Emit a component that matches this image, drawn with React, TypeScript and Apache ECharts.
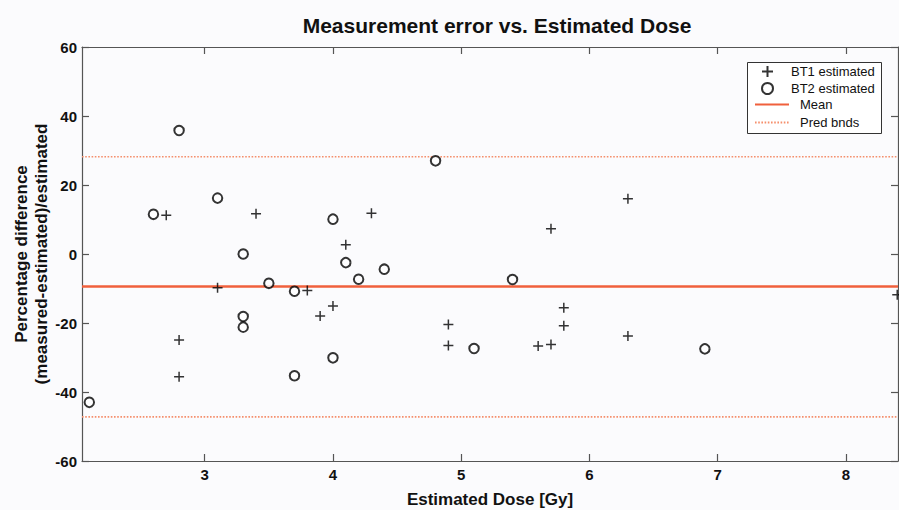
import React, { useEffect, useRef } from "react";
import * as echarts from "echarts";

const bt1X = [2.7, 2.8, 2.8, 3.1, 3.4, 3.8, 3.9, 4.0, 4.1, 4.3, 4.9, 4.9, 5.6, 5.7, 5.7, 5.8, 5.8, 6.3, 6.3, 8.4];
const bt1Y = [11.2, -24.9, -35.6, -9.8, 11.7, -10.6, -18.0, -15.1, 2.7, 11.8, -20.4, -26.5, -26.7, 7.3, -26.2, -15.6, -20.8, 16.0, -23.8, -11.8];

const bt2X = [2.1, 2.6, 2.8, 3.1, 3.3, 3.3, 3.3, 3.5, 3.7, 3.7, 4.0, 4.0, 4.1, 4.2, 4.4, 4.8, 5.1, 5.4, 6.9];
const bt2Y = [-43.0, 11.5, 35.8, 16.2, 0.0, -18.1, -21.2, -8.5, -10.8, -35.3, 10.1, -30.1, -2.5, -7.3, -4.4, 27.0, -27.4, -7.4, -27.5];

const meanValue = -9.4;
const predBounds = [28.2, -47.2];

const xRange = [2.043, 8.406];
const yRange = [-60, 60];
const xTicks = [3, 4, 5, 6, 7, 8];

const FONT = "'Liberation Sans', Arial, sans-serif";
const PLUS = "path://M0,5L10,5M5,0L5,10";

export default function App() {
  const ref = useRef<HTMLDivElement>(null);
  useEffect(() => {
    const chart = echarts.init(ref.current!, null, { renderer: "svg" });
    const axisLineStyle = { color: "#555", width: 1.2 };
    chart.setOption({
      animation: false,
      backgroundColor: "#fbfbfd",
      title: {
        text: "Measurement error vs. Estimated Dose",
        left: 492,
        top: 10,
        textAlign: "center",
        textStyle: { fontFamily: FONT, fontSize: 21, fontWeight: "bold", color: "#111" },
      },
      grid: { left: 82, right: 1, top: 47, bottom: 49, containLabel: false, outerBoundsMode: "none" },
      xAxis: [
        {
          type: "value",
          min: xRange[0],
          max: xRange[1],
          name: "Estimated Dose [Gy]",
          nameLocation: "middle",
          nameGap: 30,
          nameMoveOverlap: false,
          nameTextStyle: { fontFamily: FONT, fontSize: 17, fontWeight: "bold", color: "#111" },
          axisLine: { show: true, onZero: false, lineStyle: axisLineStyle },
          axisTick: { show: true, inside: true, length: 7, customValues: xTicks, lineStyle: axisLineStyle },
          axisLabel: { customValues: xTicks, fontFamily: FONT, fontSize: 15, fontWeight: "bold", color: "#111", margin: 6 },
          splitLine: { show: false },
        },
        {
          type: "value",
          position: "top",
          min: xRange[0],
          max: xRange[1],
          axisLine: { show: true, onZero: false, lineStyle: axisLineStyle },
          axisTick: { show: true, inside: true, length: 7, customValues: xTicks, lineStyle: axisLineStyle },
          axisLabel: { show: false },
          splitLine: { show: false },
        },
      ],
      yAxis: [
        {
          type: "value",
          min: yRange[0],
          max: yRange[1],
          interval: 20,
          name: "Percentage difference\n(measured-estimated)/estimated",
          nameLocation: "middle",
          nameRotate: 90,
          nameGap: 31,
          nameMoveOverlap: false,
          nameTextStyle: { fontFamily: FONT, fontSize: 17, fontWeight: "bold", color: "#111", lineHeight: 20 },
          axisLine: { show: true, onZero: false, lineStyle: axisLineStyle },
          axisTick: { show: true, inside: true, length: 7, lineStyle: axisLineStyle },
          axisLabel: { fontFamily: FONT, fontSize: 15, fontWeight: "bold", color: "#111", margin: 5 },
          splitLine: { show: false },
        },
        {
          type: "value",
          position: "right",
          min: yRange[0],
          max: yRange[1],
          interval: 20,
          axisLine: { show: true, onZero: false, lineStyle: axisLineStyle },
          axisTick: { show: true, inside: true, length: 7, lineStyle: axisLineStyle },
          axisLabel: { show: false },
          splitLine: { show: false },
        },
      ],
      legend: [
        {
          data: ["BT1 estimated", "BT2 estimated"],
          orient: "vertical",
          left: 761,
          top: 65,
          itemWidth: 21,
          itemHeight: 11,
          itemGap: 4,
          padding: 0,
          z: 10,
          textStyle: { fontFamily: FONT, fontSize: 13, color: "#111", padding: [0, 0, 0, 8] },
        },
        {
          data: ["Mean", "Pred bnds"],
          orient: "vertical",
          left: 754,
          top: 98,
          itemWidth: 34,
          itemHeight: 11,
          itemGap: 5,
          padding: 0,
          z: 10,
          itemStyle: { opacity: 0 },
          textStyle: { fontFamily: FONT, fontSize: 13, color: "#111", padding: [0, 0, 0, 6] },
        },
      ],
      graphic: [
        {
          type: "rect",
          z: 5,
          shape: { x: 747.5, y: 62.5, width: 134, height: 71 },
          style: { fill: "#ffffff", stroke: "#333", lineWidth: 1 },
        },
      ],
      series: [
        {
          name: "BT1 estimated",
          type: "scatter",
          symbol: PLUS,
          symbolSize: 10,
          itemStyle: { color: "rgba(0,0,0,0)", borderColor: "#000", borderWidth: 1.5 },
          data: bt1X.map((x, i) => [x, bt1Y[i]]),
          z: 4,
        },
        {
          name: "BT2 estimated",
          type: "scatter",
          symbol: "emptyCircle",
          symbolSize: 9.5,
          itemStyle: { color: "#000", borderColor: "#000", borderWidth: 1.5 },
          data: bt2X.map((x, i) => [x, bt2Y[i]]),
          z: 4,
        },
        {
          name: "Mean",
          type: "line",
          symbol: "none",
          color: "#f0603c",
          lineStyle: { color: "#f0603c", width: 2.5 },
          data: [[xRange[0], meanValue], [xRange[1], meanValue]],
          z: 3,
        },
        {
          name: "Pred bnds",
          type: "line",
          symbol: "none",
          color: "#f58f6c",
          lineStyle: { color: "#f58f6c", width: 1.6, type: [1.6, 1.6] },
          data: [[xRange[0], predBounds[0]], [xRange[1], predBounds[0]]],
          z: 3,
        },
        {
          name: "Pred bnds",
          type: "line",
          symbol: "none",
          color: "#f58f6c",
          lineStyle: { color: "#f58f6c", width: 1.6, type: [1.6, 1.6] },
          data: [[xRange[0], predBounds[1]], [xRange[1], predBounds[1]]],
          z: 3,
        },
      ],
    });
    return () => chart.dispose();
  }, []);
  return <div ref={ref} style={{ position: "absolute", left: 0, top: 0, width: 899, height: 510 }} />;
}
